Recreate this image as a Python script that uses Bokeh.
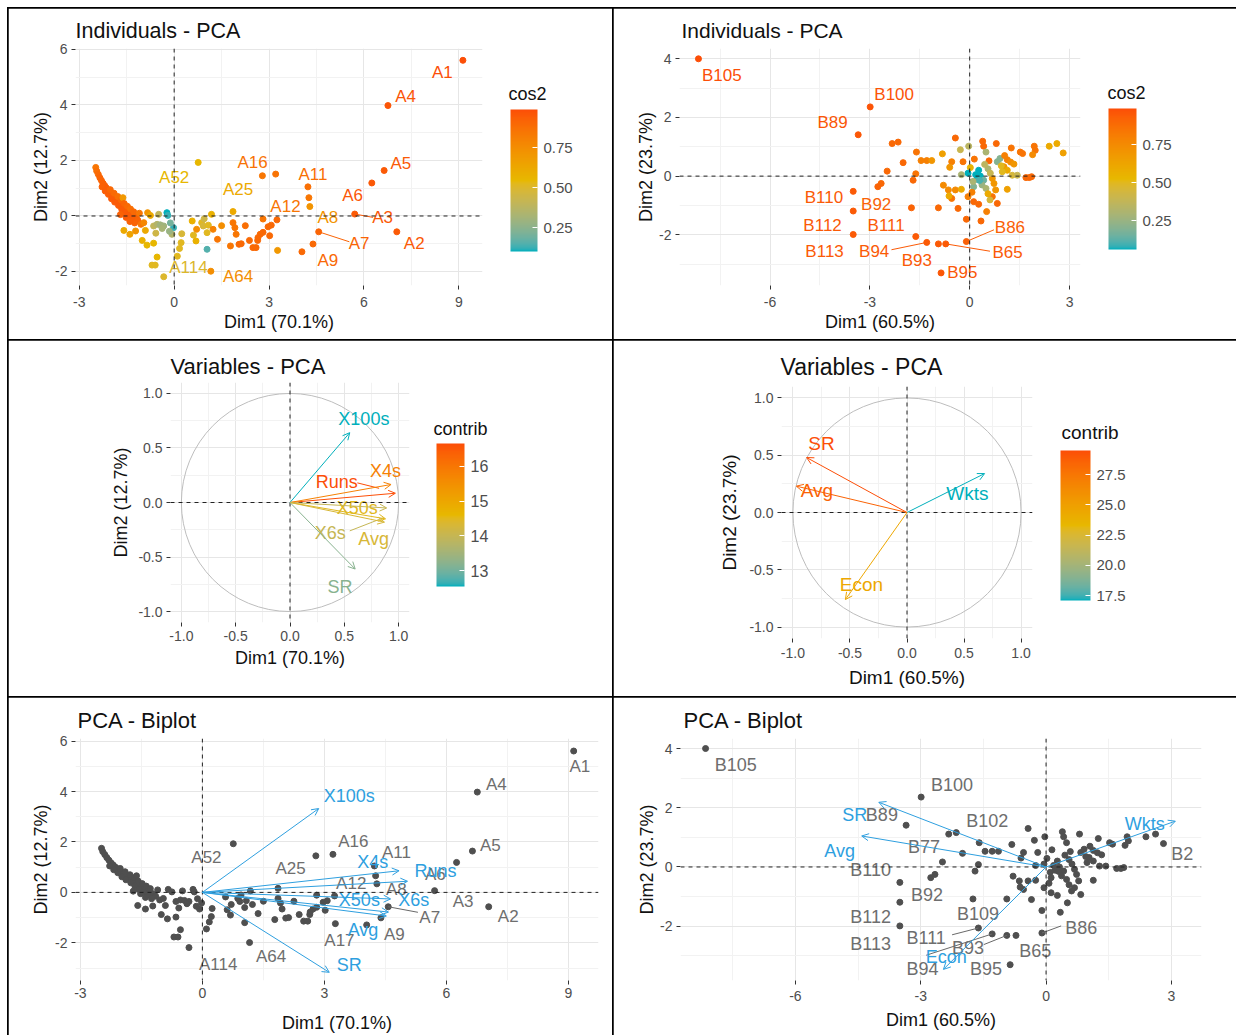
import numpy as np
from bokeh.plotting import figure
from bokeh.models import (LinearColorMapper, ColorBar, FixedTicker, Span, Arrow, OpenHead,
                          PrintfTickFormatter, Range1d)
from bokeh.layouts import column, row
from bokeh.embed import file_html
from bokeh.resources import INLINE
from bokeh.core.properties import value

FONT = "Liberation Sans"
GRAD = ["#00AFBB", "#E7B800", "#FC4E07"]

# ---------------- DATA: batsmen (A) individuals ----------------
A_x = [-2.48, -2.45, -2.40, -2.35, -2.30, -2.25, -2.20, -2.15, -2.10, -2.05, -2.00, -1.95, -1.90, -1.85,
       -1.80, -1.75, -1.70, -1.65, -1.60, -1.55, -1.50, -1.45, -1.40, -1.35, -1.30, -1.25, -1.20, -1.15,
       -2.28, -2.18, -2.08, -2.02, -1.98, -1.90, -1.88, -1.78, -1.76, -1.68, -1.66, -1.62, -1.58, -1.56,
       -1.48, -1.45, -1.38, -1.35, -1.28, -1.25, -1.52, -1.70, -1.40, -1.10, -1.05,
       -1.59, -1.40, -1.22, -0.96, -0.84, -0.91, -1.01, -0.86, -0.65, -0.54, -0.70, -0.60,
       -0.23, -0.20, -0.33, -0.65, -0.54, -0.44, -0.49, -0.02, -0.07, -0.15, -0.38,
       0.24, 0.22, 0.17, 0.10, 0.57, 0.61, 0.69, 0.87, 0.92, 1.08, 1.18, 1.04, 0.71, 1.23, 1.37,
       1.04, 0.95, -0.75, -0.58, -0.12,
       1.86, 1.92, 1.96, 1.78, 2.05, 2.12, 2.38, 2.49, 2.59, 2.64, 2.72, 2.81, 2.81, 2.65, 3.07, 2.97,
       3.02, 3.25, 2.79, 4.04, 2.25, 1.50]
A_y = [1.75, 1.62, 1.50, 1.38, 1.28, 1.18, 1.10, 1.02, 0.95, 0.88, 0.80, 0.74, 0.68, 0.60,
       0.54, 0.48, 0.42, 0.37, 0.31, 0.26, 0.21, 0.16, 0.11, 0.06, 0.02, -0.03, -0.08, -0.15,
       1.05, 0.90, 0.78, 0.95, 0.62, 0.82, 0.50, 0.70, 0.38, 0.58, 0.25, 0.66, 0.45, 0.12,
       0.35, 0.02, 0.25, -0.10, 0.15, -0.25, -0.05, 0.05, -0.20, 0.10, -0.30,
       -0.52, -0.66, -0.54, -0.24, 0.12, -0.52, -0.88, -1.05, -0.98, -1.48, -1.77, -1.77,
       0.12, 0.02, -0.36, -0.36, -0.30, -0.32, 0.06, -0.42, -0.66, -0.55, -0.45,
       -0.64, -0.96, -1.17, -1.45, -0.18, -0.69, -0.90, -0.24, -0.36, -0.33, 0.06, -1.20, -0.48, -0.48, -0.84,
       -0.60, -0.10, 0.02, -0.62, -0.25,
       -0.24, -0.42, -0.66, -1.08, -1.02, -1.00, -0.88, -1.14, -1.14, -0.88, -0.66, -0.11, -0.59, -0.78, -0.33, -0.39,
       -0.71, -0.14, 1.45, -1.29, -0.35, -0.35]
A_cos2 = [0.85, 0.88, 0.90, 0.92, 0.92, 0.93, 0.93, 0.94, 0.94, 0.94, 0.95, 0.95, 0.95, 0.95,
          0.95, 0.95, 0.95, 0.95, 0.95, 0.95, 0.95, 0.95, 0.95, 0.95, 0.95, 0.94, 0.93, 0.92,
          0.93, 0.94, 0.94, 0.90, 0.95, 0.90, 0.95, 0.88, 0.95, 0.90, 0.95, 0.70, 0.92, 0.95,
          0.90, 0.95, 0.88, 0.94, 0.90, 0.92, 0.95, 0.93, 0.93, 0.85, 0.85,
          0.62, 0.65, 0.72, 0.78, 0.72, 0.62, 0.58, 0.55, 0.55, 0.55, 0.52, 0.52,
          0.10, 0.12, 0.30, 0.40, 0.35, 0.30, 0.40, 0.12, 0.35, 0.28, 0.32,
          0.48, 0.52, 0.52, 0.52, 0.58, 0.52, 0.58, 0.52, 0.48, 0.52, 0.58, 0.15, 0.75, 0.80, 0.85,
          0.52, 0.45, 0.62, 0.45, 0.20,
          0.85, 0.85, 0.85, 0.85, 0.90, 0.90, 0.90, 0.90, 0.90, 0.90, 0.90, 0.85, 0.90, 0.90, 0.90, 0.90,
          0.90, 0.90, 0.85, 0.90, 0.88, 0.75]

# labelled batsmen
A_lab = ["A1", "A4", "A5", "A6", "A3", "A2", "A7", "A9", "A17", "A8", "A12", "A11", "A16", "A25", "A52", "A114", "A64"]
A_lab_px = [9.13, 6.76, 6.64, 6.25, 5.71, 7.04, 4.57, 4.39, 3.27, 4.29, 4.26, 4.23, 3.21, 1.86, 0.76, -0.33, 1.16]
A_lab_py = [5.61, 3.98, 1.64, 1.19, 0.07, -0.57, -0.57, -1.01, -1.24, 0.34, 0.66, 1.05, 1.51, 0.16, 1.93, -2.19, -1.99]
A_lab_cos2 = [0.99, 0.97, 0.95, 0.96, 0.95, 0.95, 0.92, 0.90, 0.70, 0.72, 0.85, 0.88, 0.86, 0.62, 0.55, 0.50, 0.75]
# label text positions, individuals plot (None = not shown)
A_ind_tx = [8.48, 7.32, 7.17, 5.64, 6.59, 7.59, 5.85, 4.86, None, 4.86, 3.52, 4.39, 2.48, 2.02, 0.00, 0.45, 2.02]
A_ind_ty = [5.16, 4.31, 1.90, 0.73, -0.05, -0.99, -0.99, -1.59, None, -0.06, 0.34, 1.51, 1.93, 0.96, 1.39, -1.87, -2.17]
# label text positions, biplot
A_bi_tx = [9.28, 7.23, 7.08, 5.73, 6.41, 7.52, 5.59, 4.72, 3.37, 4.77, 3.66, 4.77, 3.71, 2.17, 0.10, 0.39, 1.69]
A_bi_ty = [4.99, 4.29, 1.88, 0.71, -0.37, -0.97, -1.01, -1.69, -1.89, 0.13, 0.36, 1.59, 2.01, 0.93, 1.38, -2.88, -2.55]
# repel segments (label -> segment end)
A_ind_seg = ["A3", "A7"]
A_ind_seg_x = [6.29, 5.54]
A_ind_seg_y = [-0.05, -0.93]
A_bi_seg = ["A7"]
A_bi_seg_x = [5.30]
A_bi_seg_y = [-0.79]

# ---------------- DATA: bowlers (B) individuals ----------------
B_x = [-2.33, -1.60, -1.46, -1.29, -1.14, -0.82, -0.54, -0.28, -0.43, -0.03, -0.20, 0.02, 0.14, 0.39,
       0.42, 0.49, 0.80, 0.58, 0.83, 0.91, 1.25, 1.52, 1.59, 1.94, 1.97, 1.89, 2.39, 2.62, 1.13, 1.23,
       1.33, 1.03, 1.13, 0.98, 1.28, 1.43, 1.69, 1.79, 1.86, 0.27, 0.32, 0.22, 0.42, 0.12, 0.37, 0.49,
       0.68, 0.73, 0.78, 0.68, 0.83, 0.61, 1.13, -0.79, -0.64, -0.43, -0.25, -0.54, -0.62, 0.07, 0.12,
       0.27, 0.51, -0.35, -0.94, -0.10, 0.34, -2.48, -1.70, -2.66, -0.05, 0.18, 0.30, 0.55, 0.62, 0.95,
       -0.25, -0.60, 0.45, 1.05, 0.10, 0.55, -0.05, -1.62]
B_y = [1.11, 0.82, 0.53, 0.53, 0.53, 0.76, 0.49, 0.90, 1.30, 1.02, 0.49, 0.29, 0.58, 1.19,
       1.02, 0.82, 1.11, 0.52, 0.49, 0.60, 0.96, 0.82, 0.77, 1.02, 0.88, 0.73, 1.02, 1.11, 0.56, 0.48,
       0.41, 0.32, 0.20, 0.15, 0.03, 0.03, -0.05, -0.05, -0.02, 0.20, 0.00, -0.11, -0.14, -0.36, -0.30, -0.42,
       -0.08, -0.25, -0.47, -0.70, -0.93, -0.81, -0.45, -0.31, -0.47, -0.47, -0.45, -0.76, -0.68, -0.55, -0.87,
       -0.96, -1.21, -1.10, -1.08, -1.47, -1.53, 0.17, -0.14, -0.25, 0.10, 0.05, -0.15, 0.25, 0.10, 0.35,
       0.05, 0.30, 0.40, 0.70, -0.18, -0.60, -0.70, 0.08]
B_cos2 = [0.90, 0.85, 0.80, 0.80, 0.70, 0.65, 0.80, 0.40, 0.90, 0.35, 0.85, 0.55, 0.85, 0.90,
          0.90, 0.30, 0.90, 0.90, 0.20, 0.20, 0.85, 0.85, 0.85, 0.85, 0.85, 0.75, 0.60, 0.60, 0.80, 0.75,
          0.70, 0.70, 0.60, 0.50, 0.45, 0.40, 0.90, 0.90, 0.90, 0.06, 0.06, 0.10, 0.15, 0.20, 0.25, 0.30,
          0.70, 0.70, 0.70, 0.85, 0.90, 0.45, 0.65, 0.75, 0.75, 0.75, 0.60, 0.85, 0.60, 0.80, 0.90,
          0.90, 0.80, 0.90, 0.90, 0.90, 0.90, 0.90, 0.90, 0.90, 0.06, 0.06, 0.10, 0.30, 0.40, 0.50,
          0.30, 0.70, 0.35, 0.80, 0.30, 0.60, 0.80, 0.85]

B_lab = ["B105", "B100", "B89", "B102", "B77", "B110", "B92", "B112", "B113", "B109", "B111", "B94",
         "B93", "B65", "B95", "B86", "B2"]
B_lab_px = [-8.15, -2.99, -3.35, -2.15, -2.00, -3.50, -2.76, -3.50, -3.50, -1.75, -1.62, -1.29,
            -0.94, -0.72, -0.86, -0.10, 2.81]
B_lab_py = [4.00, 2.36, 1.41, 1.16, 0.46, -0.52, -0.36, -1.19, -1.99, -1.08, -2.06, -2.26,
            -2.31, -2.31, -3.30, -2.23, 0.79]
B_lab_cos2 = [0.99, 0.97, 0.96, 0.90, 0.90, 0.95, 0.92, 0.95, 0.95, 0.92, 0.95, 0.95,
              0.95, 0.95, 0.96, 0.93, 0.65]
B_ind_tx = [-7.45, -2.27, -4.12, None, None, -4.38, -2.81, -4.42, -4.36, None, -2.51, -2.87,
            -1.59, 1.14, -0.22, 1.21, None]
B_ind_ty = [3.43, 2.79, 1.83, None, None, -0.73, -0.96, -1.67, -2.58, None, -1.67, -2.58,
            -2.86, -2.61, -3.30, -1.74, None]
B_bi_tx = [-7.43, -2.25, -3.93, -1.41, -2.92, -4.20, -2.85, -4.20, -4.20, -1.63, -2.87, -2.96,
           -1.87, -0.26, -1.44, 0.84, 3.26]
B_bi_ty = [3.46, 2.76, 1.75, 1.54, 0.68, -0.11, -0.96, -1.69, -2.59, -1.58, -2.40, -3.46,
           -2.74, -2.85, -3.46, -2.06, 0.45]
B_ind_seg = ["B94", "B65", "B86"]
B_ind_seg_x = [-2.35, 0.61, 0.73]
B_ind_seg_y = [-2.51, -2.56, -1.83]
B_bi_seg = ["B111", "B93", "B94", "B86"]
B_bi_seg_x = [-2.25, -1.49, -2.87, 0.36]
B_bi_seg_y = [-2.29, -2.62, -2.98, -1.99]

# ---------------- DATA: variables ----------------
VA_names = ["Runs", "X100s", "X50s", "X4s", "X6s", "Avg", "SR"]
VA_x = [0.97, 0.55, 0.88, 0.93, 0.89, 0.87, 0.60]
VA_y = [0.085, 0.64, -0.15, 0.165, -0.05, -0.18, -0.61]
VA_contrib = [16.65, 12.55, 14.5, 15.8, 14.0, 14.3, 13.2]
VA_var_tx = [0.43, 0.68, 0.62, 0.88, 0.37, 0.77, 0.46]
VA_var_ty = [0.19, 0.77, -0.05, 0.29, -0.28, -0.33, -0.77]
VA_bi_tx = [5.73, 3.61, 3.86, 4.19, 5.20, 3.95, 3.61]
VA_bi_ty = [0.85, 3.84, -0.30, 1.22, -0.30, -1.49, -2.88]
VA_seg = ["Runs", "X6s"]
VA_seg_x0 = [0.62, 0.55]
VA_seg_y0 = [0.18, -0.26]
VA_seg_x1 = [0.82, 0.86]
VA_seg_y1 = [0.13, -0.14]

VB_names = ["SR", "Avg", "Wkts", "Econ"]
VB_x = [-0.88, -0.97, 0.68, -0.54]
VB_y = [0.48, 0.23, 0.34, -0.76]
VB_contrib = [29.5, 28.6, 17.1, 24.5]
VB_var_tx = [-0.75, -0.79, 0.53, -0.40]
VB_var_ty = [0.60, 0.19, 0.17, -0.63]
VB_bi_tx = [-4.58, -4.94, 2.36, -2.39]
VB_bi_ty = [1.75, 0.54, 1.46, -3.04]

BI_SCALE_A = 5.2
BI_SCALE_B = 4.55

# axis ticks
TK_A_X = [-3, 0, 3, 6, 9]; TK_A_XM = [-4.5, -1.5, 1.5, 4.5, 7.5]
TK_A_Y = [-2, 0, 2, 4, 6]; TK_A_YM = [-3, -1, 1, 3, 5]
TK_B_X = [-6, -3, 0, 3]; TK_B_XM = [-7.5, -4.5, -1.5, 1.5]
TK_B_Y = [-2, 0, 2, 4]; TK_B_YM = [-3, -1, 1, 3]
TK_V = [-1.0, -0.5, 0.0, 0.5, 1.0]; TK_VM = [-0.75, -0.25, 0.25, 0.75]
CB_COS2 = [0.25, 0.50, 0.75]
CB_VA = [13, 14, 15, 16]
CB_VB = [17.5, 20.0, 22.5, 25.0, 27.5]


# ---------------- colour helpers (Lab interpolation like ggplot) ----------------
def _hex2rgb(h):
    return [int(h[i:i + 2], 16) / 255 for i in (1, 3, 5)]


def _lin(c):
    return c / 12.92 if c <= 0.04045 else ((c + 0.055) / 1.055) ** 2.4


def _unlin(c):
    c = max(0.0, c)
    return 12.92 * c if c <= 0.0031308 else 1.055 * c ** (1 / 2.4) - 0.055


def _rgb2lab(rgb):
    r, g, b = [_lin(c) for c in rgb]
    X = (0.4124 * r + 0.3576 * g + 0.1805 * b) / 0.95047
    Y = 0.2126 * r + 0.7152 * g + 0.0722 * b
    Z = (0.0193 * r + 0.1192 * g + 0.9505 * b) / 1.08883
    f = lambda t: t ** (1 / 3) if t > 0.008856 else 7.787 * t + 16 / 116
    fx, fy, fz = f(X), f(Y), f(Z)
    return (116 * fy - 16, 500 * (fx - fy), 200 * (fy - fz))


def _lab2hex(L, a, b):
    fy = (L + 16) / 116
    fx = fy + a / 500
    fz = fy - b / 200
    finv = lambda t: t ** 3 if t ** 3 > 0.008856 else (t - 16 / 116) / 7.787
    X, Y, Z = 0.95047 * finv(fx), finv(fy), 1.08883 * finv(fz)
    r = 3.2406 * X - 1.5372 * Y - 0.4986 * Z
    g = -0.9689 * X + 1.8758 * Y + 0.0415 * Z
    bb = 0.0557 * X - 0.2040 * Y + 1.0570 * Z
    return "#%02x%02x%02x" % tuple(int(round(min(1, _unlin(c)) * 255)) for c in (r, g, bb))


def make_palette(n=256):
    labs = [_rgb2lab(_hex2rgb(h)) for h in GRAD]
    pal = []
    for i in range(n):
        t = i / (n - 1) * 2
        k = min(int(t), 1)
        u = t - k
        L = [labs[k][j] * (1 - u) + labs[k + 1][j] * u for j in range(3)]
        pal.append(_lab2hex(*L))
    return pal


PAL = make_palette()


def col_of(v, lo, hi):
    t = (v - lo) / (hi - lo)
    return PAL[int(round(max(0, min(1, t)) * (len(PAL) - 1)))]


# ---------------- figure helpers ----------------
def base(W, H, ml, mr, mt, mb, xr, yr, title, tsize, toff, tstand,
         xt, xm, yt, ym, xlab, ylab, xstd, xals, yals, fmt="%d", lab_fs="18px", tick_fs="14px",
         clip="inset(-3px -3px -3px -3px)"):
    p = figure(width=W, height=H, min_border_left=ml, min_border_right=mr, min_border_top=mt,
               min_border_bottom=mb, x_range=Range1d(*xr), y_range=Range1d(*yr),
               output_backend="svg", toolbar_location=None, title=title)
    p.outline_line_color = None
    p.background_fill_color = "white"
    p.border_fill_color = "white"
    p.title.text_font = FONT
    p.title.text_font_size = tsize
    p.title.text_font_style = "normal"
    p.title.text_color = "#111111"
    p.title.align = "left"
    p.title.offset = toff
    p.title.standoff = tstand
    p.xaxis.ticker = FixedTicker(ticks=xt, minor_ticks=xm)
    p.yaxis.ticker = FixedTicker(ticks=yt, minor_ticks=ym)
    p.xaxis.formatter = PrintfTickFormatter(format=fmt)
    p.yaxis.formatter = PrintfTickFormatter(format=fmt)
    p.xaxis.axis_label = xlab
    p.yaxis.axis_label = ylab
    p.xaxis.axis_label_standoff = xals
    p.yaxis.axis_label_standoff = yals
    for ax in (p.xaxis[0], p.yaxis[0]):
        ax.axis_line_color = None
        ax.major_tick_line_color = "#333333"
        ax.major_tick_out = 4
        ax.major_tick_in = 0
        ax.minor_tick_line_color = None
        ax.major_label_standoff = 4
        ax.major_label_text_font = FONT
        ax.major_label_text_font_size = tick_fs
        ax.major_label_text_color = "#4D4D4D"
        ax.axis_label_text_font = FONT
        ax.axis_label_text_font_size = lab_fs
        ax.axis_label_text_font_style = "normal"
        ax.axis_label_text_color = "#111111"
    p.xaxis.major_label_standoff = xstd
    for g in (p.xgrid[0], p.ygrid[0]):
        g.grid_line_color = "#E6E6E6"
        g.grid_line_width = 1
        g.minor_grid_line_color = "#F2F2F2"
        g.minor_grid_line_width = 1
    p.add_layout(Span(location=0, dimension="width", line_dash="4 4", line_color="#222222", line_width=1))
    p.add_layout(Span(location=0, dimension="height", line_dash="4 4", line_color="#222222", line_width=1))
    p.styles = {"outline": "2px solid #000000", "outline-offset": "-1px", "clip-path": clip}
    return p


def add_cbar(p, lo, hi, ticks, fmt, title, w, h, xoff, yoff, tx, ty, title_fs="18px", lab_fs="15px"):
    mapper = LinearColorMapper(palette=PAL, low=lo, high=hi)
    cb = ColorBar(color_mapper=mapper, ticker=FixedTicker(ticks=ticks), orientation="vertical",
                  formatter=PrintfTickFormatter(format=fmt), width=w, height=h,
                  location=(xoff, yoff), title=None,
                  major_label_text_font=FONT, major_label_text_font_size=lab_fs,
                  major_label_text_color="#4D4D4D", major_tick_line_color="white", major_tick_in=5,
                  major_tick_out=0, bar_line_color=None, border_line_color=None,
                  background_fill_color=None, padding=0, margin=0, label_standoff=6)
    p.add_layout(cb, "center")
    # legend title: an invisible horizontal bar whose (horizontal) title is the legend title
    tm = LinearColorMapper(palette=["#ffffff", "#ffffff"], low=0, high=1)
    tb = ColorBar(color_mapper=tm, orientation="horizontal", width=1, height=1, location=(tx, ty),
                  ticker=FixedTicker(ticks=[]), title=title, title_text_font=FONT,
                  title_text_font_size=title_fs, title_text_font_style="normal", title_text_color="#111111",
                  title_standoff=0, scale_alpha=0, bar_line_color=None, border_line_color=None,
                  background_fill_color=None, padding=0, margin=0, major_tick_line_color=None,
                  minor_tick_line_color=None, major_label_text_font_size="1px")
    p.add_layout(tb, "center")
    return cb


def sel(names, tx, ty, px, py, cols):
    return [(n, a, b, c, d, e) for n, a, b, c, d, e in zip(names, tx, ty, px, py, cols) if a is not None]


def seg_list(segnames, sx, sy, names, px, py, col):
    x0, y0, x1, y1, cc = [], [], [], [], []
    for n, a, b in zip(segnames, sx, sy):
        i = names.index(n)
        x0.append(px[i]); y0.append(py[i]); x1.append(a); y1.append(b); cc.append(col[i])
    return x0, y0, x1, y1, cc


CLIP_R = "inset(-3px 1px -3px -3px)"
CLIP_B = "inset(-3px -3px 1px -3px)"
CLIP_RB = "inset(-3px 1px 1px -3px)"

# ---------------- Panel 1: Individuals A ----------------
allAx = A_x + A_lab_px
allAy = A_y + A_lab_py
allAc = A_cos2 + A_lab_cos2
loA, hiA = min(allAc), max(allAc)
colA = [col_of(v, loA, hiA) for v in allAc]
colA_lab = [col_of(v, loA, hiA) for v in A_lab_cos2]

p1 = base(605, 332, 67, 131, 40, 55, (-3.12, 9.75), (-2.505, 6.036), "Individuals - PCA", "21.5px", 0, 11,
          TK_A_X, TK_A_XM, TK_A_Y, TK_A_YM, "Dim1 (70.1%)", "Dim2 (12.7%)", 7, 2, 1)
p1.scatter(allAx, allAy, size=6, fill_color=colA, line_color=colA)
x0, y0, x1, y1, cc = seg_list(A_ind_seg, A_ind_seg_x, A_ind_seg_y, A_lab, A_lab_px, A_lab_py, colA_lab)
p1.segment(x0, y0, x1, y1, line_color=cc, line_width=1)
L = sel(A_lab, A_ind_tx, A_ind_ty, A_lab_px, A_lab_py, colA_lab)
p1.text([l[1] for l in L], [l[2] for l in L], text=[l[0] for l in L], text_color=[l[5] for l in L],
        text_font=value(FONT), text_font_size=value("17px"), text_align="center", text_baseline="middle")
add_cbar(p1, loA, hiA, CB_COS2, "%.2f", "cos2", 27, 142, 435, 34, 433, 181)

# ---------------- Panel 2: Individuals B ----------------
allBx = B_x + B_lab_px
allBy = B_y + B_lab_py
allBc = B_cos2 + B_lab_cos2
loB, hiB = min(allBc), max(allBc)
colB = [col_of(v, loB, hiB) for v in allBc]
colB_lab = [col_of(v, loB, hiB) for v in B_lab_cos2]

p2 = base(624, 332, 66, 157, 40, 55, (-8.72, 3.33), (-3.729, 4.351), "Individuals - PCA", "21px", 2, 13,
          TK_B_X, TK_B_XM, TK_B_Y, TK_B_YM, "Dim1 (60.5%)", "Dim2 (23.7%)", 7, 2, 0, clip=CLIP_R)
p2.scatter(allBx, allBy, size=6, fill_color=colB, line_color=colB)
x0, y0, x1, y1, cc = seg_list(B_ind_seg, B_ind_seg_x, B_ind_seg_y, B_lab, B_lab_px, B_lab_py, colB_lab)
p2.segment(x0, y0, x1, y1, line_color=cc, line_width=1)
L = sel(B_lab, B_ind_tx, B_ind_ty, B_lab_px, B_lab_py, colB_lab)
p2.text([l[1] for l in L], [l[2] for l in L], text=[l[0] for l in L], text_color=[l[5] for l in L],
        text_font=value(FONT), text_font_size=value("17px"), text_align="center", text_baseline="middle")
add_cbar(p2, loB, hiB, CB_COS2, "%.2f", "cos2", 28, 141, 429, 36, 428, 182)


# ---------------- variable panels ----------------
def var_panel(W, H, ml, mr, mt, mb, yr, toff, tstand, xlab, ylab, xstd, xals, yals, names, vx, vy, contrib,
              tx, ty, seg, lab_fs, axis_fs, title_fs, cb_ticks, cb_fmt, cbw, cbh, cbx, cby, cbtx, cbty,
              cb_lab_fs, cb_t_fs, clip="inset(-3px -3px -3px -3px)"):
    lo, hi = min(contrib), max(contrib)
    cols = [col_of(v, lo, hi) for v in contrib]
    p = base(W, H, ml, mr, mt, mb, (-1.1, 1.1), yr, "Variables - PCA", title_fs, toff, tstand,
             TK_V, TK_VM, TK_V, TK_VM, xlab, ylab, xstd, xals, yals, fmt="%.1f", lab_fs=axis_fs, clip=clip)
    p.ellipse(x=[0], y=[0], width=[2], height=[2], fill_color=None, line_color="#BDBDBD", line_width=1)
    for n, x, y, c in zip(names, vx, vy, cols):
        p.add_layout(Arrow(end=OpenHead(size=7, line_color=c, line_width=1), x_start=0, y_start=0,
                           x_end=x, y_end=y, line_color=c, line_width=1))
    if seg:
        sn, sx0, sy0, sx1, sy1 = seg
        sc = [cols[names.index(n)] for n in sn]
        p.segment(sx0, sy0, sx1, sy1, line_color=sc, line_width=1)
    p.text(tx, ty, text=names, text_color=cols, text_font=value(FONT), text_font_size=value(lab_fs),
           text_align="center", text_baseline="middle")
    add_cbar(p, lo, hi, cb_ticks, cb_fmt, "contrib", cbw, cbh, cbx, cby, cbtx, cbty,
             title_fs=cb_t_fs, lab_fs=cb_lab_fs)
    return p


p3 = var_panel(605, 357, 162, 204, 42, 75, (-1.1, 1.1), 0, 8, "Dim1 (70.1%)", "Dim2 (12.7%)", 4, 4, 4,
               VA_names, VA_x, VA_y, VA_contrib, VA_var_tx, VA_var_ty,
               (VA_seg, VA_seg_x0, VA_seg_y0, VA_seg_x1, VA_seg_y1), "18px", "18px", "22px",
               CB_VA, "%d", 28, 143, 266, 36, 263, 183, "16px", "18px")
p4 = var_panel(624, 357, 168, 205, 46, 59, (-1.1, 1.1), -1, 13, "Dim1 (60.5%)", "Dim2 (23.7%)", 5, 6, 6,
               VB_names, VB_x, VB_y, VB_contrib, VB_var_tx, VB_var_ty, None, "19px", "19px", "23px",
               CB_VB, "%.1f", 30, 150, 279, 38, 280, 195, "15px", "19px", clip=CLIP_R)


# ---------------- biplots ----------------
def biplot(W, H, ml, mr, mt, mb, xr, yr, toff, tstand, xt, xm, yt, ym, xlab, ylab, xstd, xals, yals,
           px, py, lnames, lpx, lpy, ltx, lty, segn, segx, segy, vnames, vx, vy, vtx, vty, scale, fs, clip):
    p = base(W, H, ml, mr, mt, mb, xr, yr, "PCA - Biplot", "22px", toff, tstand,
             xt, xm, yt, ym, xlab, ylab, xstd, xals, yals, clip=clip)
    p.scatter(px + lpx, py + lpy, size=6, fill_color="#4F4F4F", line_color="#4F4F4F")
    x0, y0, x1, y1, cc = seg_list(segn, segx, segy, lnames, lpx, lpy, ["#696969"] * len(lnames))
    p.segment(x0, y0, x1, y1, line_color="#696969", line_width=1)
    for x, y in zip(vx, vy):
        p.add_layout(Arrow(end=OpenHead(size=7, line_color="#2E9FDF", line_width=1), x_start=0, y_start=0,
                           x_end=x * scale, y_end=y * scale, line_color="#2E9FDF", line_width=1))
    p.text(ltx, lty, text=lnames, text_color="#6E6E6E", text_font=value(FONT), text_font_size=value(fs),
           text_align="center", text_baseline="middle")
    p.text(vtx, vty, text=vnames, text_color="#2E9FDF", text_font=value(FONT), text_font_size=value("18px"),
           text_align="center", text_baseline="middle")
    return p


p5 = biplot(605, 339, 67, 15, 41, 56, (-3.12, 9.74), (-3.496, 6.107), 2, 11, TK_A_X, TK_A_XM, TK_A_Y, TK_A_YM,
            "Dim1 (70.1%)", "Dim2 (12.7%)", 3, 12, 1, A_x, A_y, A_lab, A_lab_px, A_lab_py, A_bi_tx, A_bi_ty,
            A_bi_seg, A_bi_seg_x, A_bi_seg_y, VA_names, VA_x, VA_y, VA_bi_tx, VA_bi_ty, BI_SCALE_A, "17px",
            CLIP_B)
p6 = biplot(624, 339, 67, 36, 41, 56, (-8.75, 3.72), (-3.833, 4.338), 3, 11, TK_B_X, TK_B_XM, TK_B_Y, TK_B_YM,
            "Dim1 (60.5%)", "Dim2 (23.7%)", 6, 6, 0, B_x, B_y, B_lab, B_lab_px, B_lab_py, B_bi_tx, B_bi_ty,
            B_bi_seg, B_bi_seg_x, B_bi_seg_y, VB_names, VB_x, VB_y, VB_bi_tx, VB_bi_ty, BI_SCALE_B, "18px",
            CLIP_RB)

layout = column(row(column(p1), column(p2)), row(column(p3), column(p4)), row(column(p5), column(p6)),
                margin=(8, 0, 0, 8))
open("out.html", "w").write(file_html(layout, INLINE))
